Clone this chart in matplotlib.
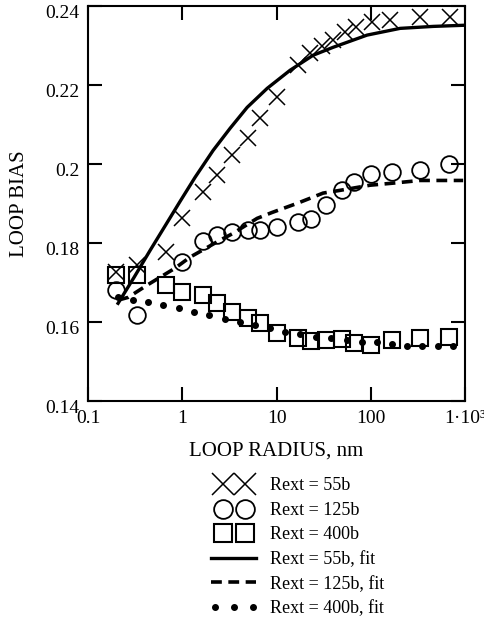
import matplotlib
matplotlib.use("Agg")
import matplotlib.pyplot as plt
import matplotlib.transforms as mtransforms
from matplotlib.legend_handler import HandlerLine2D

plt.rcParams['font.family'] = ['Liberation Serif', 'DejaVu Serif']

# measured points, loop radius (nm) vs loop bias
r55 = [0.2, 0.33, 0.67, 1.0, 1.67, 2.33, 3.33, 5.0, 6.67, 10.0, 16.7, 22.7, 30.4, 39.7,
       53.3, 69.8, 103, 160, 333, 693]
b55 = [0.1727, 0.1744, 0.1777, 0.1863, 0.1929, 0.1972, 0.2023, 0.2066, 0.2116, 0.2170,
       0.2251, 0.2281, 0.2299, 0.2314, 0.2334, 0.2347, 0.2359, 0.2365, 0.2372, 0.2372]

r125 = [0.2, 0.33, 1.0, 1.67, 2.33, 3.33, 5.0, 6.67, 10.0, 16.7, 23.3, 33.3, 50, 66.7,
        100, 167, 333, 667]
b125 = [0.1681, 0.1618, 0.1752, 0.1805, 0.1820, 0.1828, 0.1833, 0.1833, 0.1841, 0.1853,
        0.1861, 0.1896, 0.1934, 0.1954, 0.1975, 0.1980, 0.1985, 0.2000]

r400 = [0.2, 0.33, 0.67, 1.0, 1.67, 2.33, 3.33, 5.0, 6.67, 10.0, 16.7, 23.3, 33.3, 50,
        66.7, 100, 167, 333, 667]
b400 = [0.1719, 0.1719, 0.1694, 0.1676, 0.1668, 0.1648, 0.1625, 0.1610, 0.1597, 0.1572,
        0.1559, 0.1552, 0.1554, 0.1557, 0.1547, 0.1542, 0.1554, 0.1559, 0.1562]

# fitted curves
fit55_r = [0.208, 0.308, 0.455, 0.672, 0.946, 1.365, 2.12, 3.21, 4.87, 7.93, 13.9, 24.4,
           39.7, 91.2, 204, 457, 1000]
fit55_b = [0.1648, 0.1714, 0.1782, 0.1848, 0.1906, 0.1967, 0.2035, 0.2091, 0.2144, 0.2192,
           0.2238, 0.2276, 0.2296, 0.2327, 0.2344, 0.2349, 0.2352]

fit125_r = [0.208, 0.266, 0.423, 0.838, 1.21, 1.62, 2.52, 3.45, 4.41, 6.21, 8.96, 16.5,
            22.7, 31.1, 47.2, 98.2, 168, 333, 953]
fit125_b = [0.1656, 0.1663, 0.1694, 0.1737, 0.1765, 0.1782, 0.1808, 0.1825, 0.1841, 0.1863,
            0.1878, 0.1901, 0.1914, 0.1927, 0.1934, 0.1947, 0.1952, 0.1959, 0.1959]

fit400_r = [0.208, 0.300, 0.433, 0.625, 0.925, 1.33, 1.92, 2.84, 4.10, 5.92, 8.53, 12.3,
            17.7, 26.2, 37.8, 55.9, 80.7, 116, 168, 243, 350, 517, 746]
fit400_b = [0.1663, 0.1656, 0.1651, 0.1643, 0.1635, 0.1625, 0.1618, 0.1608, 0.1600, 0.1592,
            0.1585, 0.1575, 0.1570, 0.1562, 0.1559, 0.1554, 0.1549, 0.1549, 0.1544, 0.1539,
            0.1539, 0.1539, 0.1539]

xticks = [0.1, 1, 10, 100, 1000]
xticklabels = ["0.1", "1", "10", "100", "1·10³"]
yticks = [0.14, 0.16, 0.18, 0.2, 0.22, 0.24]
yticklabels = ["0.14", "0.16", "0.18", "0.2", "0.22", "0.24"]


def big_marker(size):
    def upd(h, o):
        h.update_from(o)
        h.set_markersize(size)
    return upd


fig = plt.figure(figsize=(4.84, 6.26), dpi=100)
ax = fig.add_axes([0.182, 0.359, 0.779, 0.631])

xs, = ax.plot(r55, b55, ls='none', marker='x', ms=12, mew=1.1, color='k', label='Rext = 55b')
cs, = ax.plot(r125, b125, ls='none', marker='o', ms=12, mew=1.3, mfc='none', color='k',
              label='Rext = 125b')
ss, = ax.plot(r400, b400, ls='none', marker='s', ms=12, mew=1.5, mfc='none', color='k',
              label='Rext = 400b')
ax.plot(fit55_r, fit55_b, color='k', lw=2.4, label='Rext = 55b, fit')
ax.plot(fit125_r, fit125_b, color='k', lw=2.6, ls=(0, (3, 1.8)), label='Rext = 125b, fit')
dots, = ax.plot(fit400_r, fit400_b, ls='none', marker='o', ms=4, color='k',
                label='Rext = 400b, fit')

ax.set_xscale('log')
ax.set_xlim(0.1, 1000)
ax.set_ylim(0.14, 0.24)
ax.set_xticks(xticks)
ax.set_xticklabels(xticklabels)
ax.set_yticks(yticks)
ax.set_yticklabels(yticklabels)
ax.minorticks_off()
ax.tick_params(direction='in', length=10, width=1.5, top=True, right=True,
               labelsize=14, pad=6)
for s in ax.spines.values():
    s.set_linewidth(1.5)

# y tick labels sit a little below their ticks in the original
shift = mtransforms.ScaledTranslation(0, -5 / 100, fig.dpi_scale_trans)
for lab in ax.get_yticklabels():
    lab.set_transform(lab.get_transform() + shift)

ax.set_xlabel('LOOP RADIUS, nm', fontsize=15, labelpad=11)
ax.set_ylabel('LOOP BIAS', fontsize=15, labelpad=12)

hmap = {
    xs: HandlerLine2D(numpoints=2, marker_pad=0.65, update_func=big_marker(16)),
    cs: HandlerLine2D(numpoints=2, marker_pad=0.65, update_func=big_marker(13.5)),
    ss: HandlerLine2D(numpoints=2, marker_pad=0.65, update_func=big_marker(13.5)),
    dots: HandlerLine2D(numpoints=3, marker_pad=0.2),
}
fig.legend(loc='upper left', bbox_to_anchor=(0.418, 0.252), frameon=False, fontsize=13,
           handlelength=2.5, handletextpad=0.75, labelspacing=0.42,
           borderpad=0, handler_map=hmap)

fig.savefig('out.png', dpi=100)
